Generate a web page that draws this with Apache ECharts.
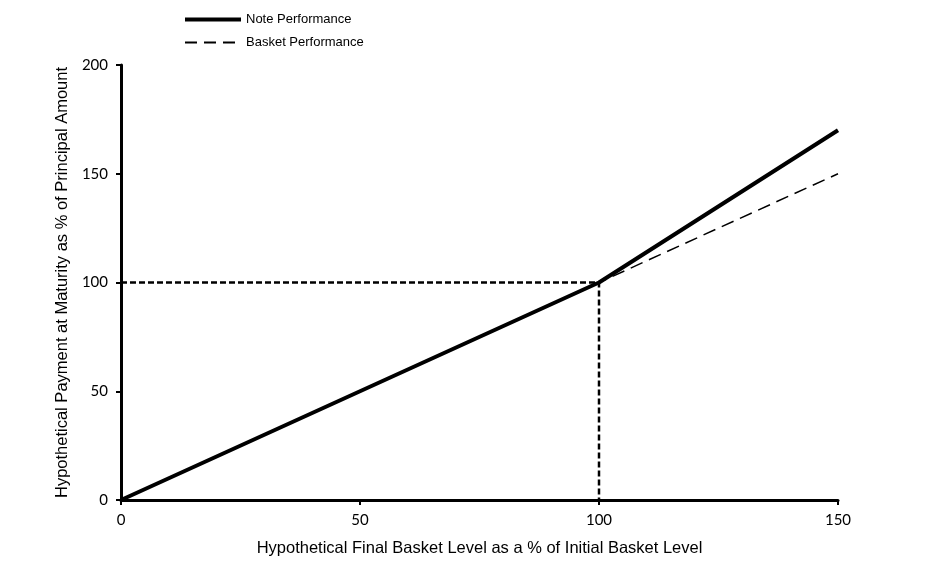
<!DOCTYPE html>
<html><head><meta charset="utf-8">
<script src="https://cdn.jsdelivr.net/npm/echarts@6/dist/echarts.min.js"></script>
<style>html,body{margin:0;padding:0;background:#fff}#c{width:947px;height:569px}</style>
</head><body><div id="c"></div>
<script>
const noteX = [0, 100, 150];
const noteY = [0, 100, 170];
const basketX = [0, 150];
const basketY = [0, 150];
const refX = [0, 100, 100];
const refY = [100, 100, 0];
const seriesNames = ['Note Performance', 'Basket Performance'];
const xTicks = [0, 50, 100, 150];
const yTicks = [0, 50, 100, 150, 200];

const zip = (a, b) => a.map((v, i) => [v, b[i]]);
const chart = echarts.init(document.getElementById('c'));
chart.setOption({
  animation: false,
  backgroundColor: '#fff',
  grid: { left: 121, right: 109, top: 65, bottom: 69, containLabel: false },
  legend: {
    data: [
      { name: seriesNames[0], lineStyle: { width: 4, color: '#000', type: 'solid' } },
      { name: seriesNames[1], lineStyle: { width: 2.2, color: '#000', type: [12, 7] } }
    ],
    orient: 'vertical', left: 178, top: 8,
    itemWidth: 56, itemHeight: 14, itemGap: 10,
    itemStyle: { opacity: 0 },
    textStyle: { fontFamily: 'Liberation Sans', fontSize: 13, color: '#000' }
  },
  xAxis: {
    type: 'value', min: 0, max: 150, interval: 50,
    name: 'Hypothetical Final Basket Level as a % of Initial Basket Level',
    nameLocation: 'middle', nameGap: 40,
    nameTextStyle: { fontFamily: 'Liberation Sans', fontSize: 16.5, color: '#000' },
    axisLine: { lineStyle: { color: '#000', width: 3 } },
    axisTick: { show: true, length: 5, lineStyle: { color: '#000', width: 2 } },
    axisLabel: { fontFamily: 'Lato', fontSize: 15, color: '#000', margin: 13 },
    splitLine: { show: false }
  },
  yAxis: {
    type: 'value', min: 0, max: 200, interval: 50,
    name: 'Hypothetical Payment at Maturity as % of Principal Amount',
    nameLocation: 'middle', nameGap: 50,
    nameTextStyle: { fontFamily: 'Liberation Sans', fontSize: 16.5, color: '#000' },
    axisLine: { show: true, lineStyle: { color: '#000', width: 3 } },
    axisTick: { show: true, length: 5, lineStyle: { color: '#000', width: 2 } },
    axisLabel: { fontFamily: 'Lato', fontSize: 15, color: '#000', margin: 13 },
    splitLine: { show: false }
  },
  series: [
    {
      name: 'Basket Performance', type: 'line', data: zip(basketX, basketY),
      symbol: 'none', z: 2,
      lineStyle: { color: '#000', width: 1.5, type: [13, 7] },
      itemStyle: { color: '#000' }
    },
    {
      name: 'reference', type: 'line', data: zip(refX, refY),
      symbol: 'none', z: 3,
      lineStyle: { color: '#000', width: 2.5, type: [6, 3] }
    },
    {
      name: 'Note Performance', type: 'line', data: zip(noteX, noteY),
      symbol: 'none', z: 4,
      lineStyle: { color: '#000', width: 4 },
      itemStyle: { color: '#000' }
    }
  ]
});
</script></body></html>
